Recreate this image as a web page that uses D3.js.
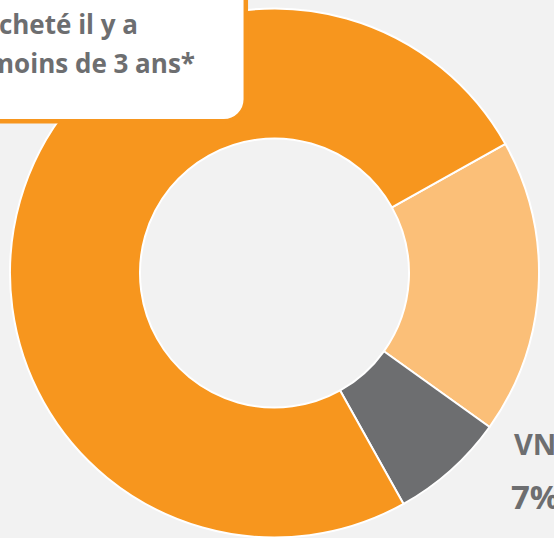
<!DOCTYPE html>
<html>
<head>
<meta charset="utf-8">
<script src="https://cdn.jsdelivr.net/npm/d3@7"></script>
<style>
  html, body { margin: 0; padding: 0; background: #f2f2f2; }
  svg { display: block; }
</style>
</head>
<body>
<script>
// ---- data ----
const categories = ["Autre", "VN", "Acheté il y a moins de 3 ans*"];
const values = [18, 7, 75];
const colors = ["#fbbf78", "#6d6e70", "#f7961e"];
const boxLines = ["Acheté il y a", "moins de 3 ans*"];
const vnLabel = "VN";
const vnValue = "7%";

const W = 554, H = 538;
const svg = d3.select("body").append("svg").attr("width", W).attr("height", H);
svg.append("rect").attr("width", W).attr("height", H).attr("fill", "#f2f2f2");

const cx = 274.5, cy = 273;
const deg = Math.PI / 180;
const start = 60.8 * deg;
const pie = d3.pie().sort(null).value(d => d.v).startAngle(start).endAngle(start + 2 * Math.PI);
const arc = d3.arc().innerRadius(134.5).outerRadius(264.5);
const data = categories.map((c, i) => ({ c, v: values[i], col: colors[i] }));

const g = svg.append("g").attr("transform", `translate(${cx},${cy})`);
g.selectAll("path").data(pie(data)).join("path")
  .attr("d", arc)
  .attr("fill", d => d.data.col)
  .attr("stroke", "#ffffff")
  .attr("stroke-width", 2)
  .attr("stroke-linejoin", "round");

// callout box (top-left, partly cut)
svg.append("rect")
  .attr("x", -60).attr("y", -60)
  .attr("width", 245.8 + 60).attr("height", 121.3 + 60)
  .attr("rx", 22).attr("ry", 22)
  .attr("fill", "#ffffff")
  .attr("stroke", "#f7961e")
  .attr("stroke-width", 4.5);

const font = "'Open Sans', 'Liberation Sans', sans-serif";
svg.append("text").attr("x", 138).attr("y", 34)
  .attr("text-anchor", "end").attr("font-family", font).attr("font-weight", 700)
  .attr("font-size", 26).attr("fill", "#6d6e70").text(boxLines[0]);
svg.append("text").attr("x", 195).attr("y", 73)
  .attr("text-anchor", "end").attr("font-family", font).attr("font-weight", 700)
  .attr("font-size", 26).attr("fill", "#6d6e70").text(boxLines[1]);

svg.append("text").attr("x", 514).attr("y", 455)
  .attr("font-family", font).attr("font-weight", 700)
  .attr("font-size", 29).attr("fill", "#6d6e70").text(vnLabel);
svg.append("text").attr("x", 511).attr("y", 509)
  .attr("font-family", font).attr("font-weight", 700)
  .attr("font-size", 33).attr("fill", "#6d6e70").text(vnValue);
</script>
</body>
</html>
